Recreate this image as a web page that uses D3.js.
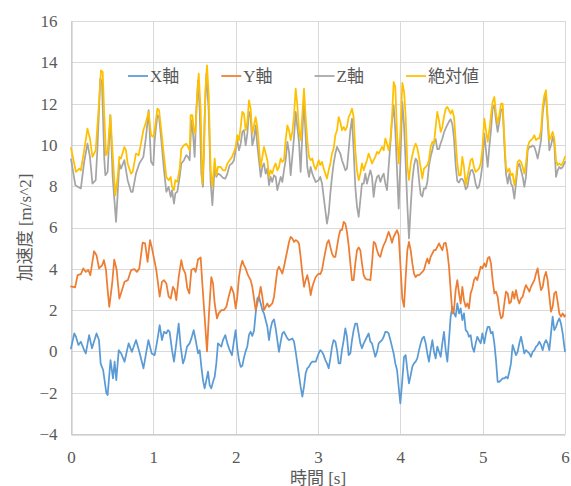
<!DOCTYPE html>
<html><head><meta charset="utf-8">
<script src="https://cdn.jsdelivr.net/npm/d3@7"></script>
<style>body{margin:0;background:#fff}svg{display:block}</style>
</head><body><svg id="c" width="571" height="486"></svg>
<script>
const xTicks = [0,1,2,3,4,5,6];
const yTicks = [-4,-2,0,2,4,6,8,10,12,14,16];
const seriesNames = ["X軸","Y軸","Z軸","絶対値"];
const seriesColors = ["#5B9BD5","#ED7D31","#A5A5A5","#FFC000"];
const xTitle = "時間 [s]";
const yTitle = "加速度 [m/s^2]";

// shared sample times for 2–6 s
const tLate = [
 2.000,2.020,2.040,2.061,2.081,2.101,2.121,2.142,2.162,2.182,2.202,2.223,2.243,2.263,2.283,2.304,2.324,2.344,2.364,2.385,2.405,2.425,2.445,2.466,2.486,2.506,2.526,2.547,2.567,2.587,2.607,2.628,2.648,2.668,2.688,2.709,2.729,2.749,2.769,2.789,2.810,2.830,2.850,2.870,2.891,2.911,2.931,2.951,2.972,
 3.008,3.028,3.049,3.069,3.089,3.109,3.130,3.150,3.170,3.190,3.211,3.231,3.251,3.271,3.291,3.312,3.332,3.352,3.372,3.393,3.413,3.433,3.453,3.474,3.494,3.514,3.534,3.555,3.575,3.595,3.615,3.636,3.656,3.676,3.696,3.717,3.737,3.757,3.777,3.798,3.818,3.838,3.858,3.879,3.899,3.919,3.939,3.960,3.980,4.000,
 4.024,4.045,4.065,4.085,4.105,4.126,4.146,4.166,4.186,4.206,4.227,4.247,4.267,4.287,4.308,4.328,4.348,4.368,4.389,4.409,4.429,4.449,4.470,4.490,4.510,4.530,4.551,4.571,4.591,4.611,4.632,4.652,4.672,4.692,4.713,4.733,4.753,4.773,4.794,4.814,4.834,4.854,4.874,4.895,4.915,4.935,4.955,4.976,4.996,
 5.020,5.040,5.061,5.081,5.101,5.121,5.142,5.162,5.182,5.202,5.223,5.243,5.263,5.283,5.304,5.324,5.344,5.364,5.385,5.405,5.425,5.445,5.466,5.486,5.506,5.526,5.547,5.567,5.587,5.607,5.628,5.648,5.668,5.688,5.709,5.729,5.749,5.769,5.789,5.810,5.830,5.850,5.870,5.891,5.911,5.931,5.951,5.972,5.992,6.000];

// X軸
const xEarlyT = [0,0.04,0.06,0.09,0.12,0.16,0.18,0.22,0.255,0.31,0.34,0.36,0.39,0.43,0.445,0.48,0.51,0.53,0.55,0.58,0.61,0.65,0.7,0.74,0.79,0.83,0.88,0.94,0.98,
 1.016,1.049,1.077,1.105,1.13,1.158,1.178,1.198,1.227,1.251,1.279,1.308,1.332,1.36,1.381,1.409,1.441,1.462,1.49,1.514,1.543,1.563,1.583,1.603,1.623,1.644,1.664,1.684,1.704,1.725,1.745,1.765,1.785,1.806,1.826,1.846,1.874,1.899,1.927,1.955,1.98];
const xEarlyV = [0.15,0.87,0.71,0.31,0.47,0.06,-0.1,0.79,0.15,0.87,0.55,-0.58,-0.9,-2.03,-2.11,-0.42,-1.31,-0.5,-1.39,0.06,-0.1,-0.5,0.39,-0.02,0.55,-0.02,-0.82,0.55,-0.1,
 -0.18,0.55,1.27,0.55,0.95,0.87,1.03,0.95,0.06,-0.5,0.39,1.35,0.23,-0.58,-0.34,0.23,0.39,0.63,1.03,0.55,-0.1,0.06,-0.74,-1.39,-1.79,-1.39,-0.98,-1.63,-1.79,-1.47,-1.23,-0.58,0.39,0.31,0.23,0.55,0.79,0.39,0.06,-0.18,0.55];
const xLateV = [
 1.03,0.15,-0.42,-0.75,-0.7,-0.3,0.0,0.25,0.8,0.95,0.75,1.0,1.84,2.56,2.65,2.32,2.0,1.84,1.52,1.19,0.55,1.11,1.44,1.55,1.11,0.55,-0.02,0.47,0.87,0.95,0.79,0.63,0.55,0.58,0.63,0.47,-0.02,-0.58,-1.15,-1.71,-2.19,-1.71,-1.06,-0.82,-0.74,-0.58,-0.5,-0.5,-0.5,
 -0.1,0.06,-0.02,-0.18,-0.42,-0.58,-0.82,-0.34,0.23,0.55,0.47,0.06,-0.58,-0.58,0.06,0.55,1.11,0.71,-0.18,-0.1,0.55,1.03,1.35,1.35,0.87,0.39,0.15,0.39,0.55,0.71,0.87,0.47,0.39,0.06,-0.26,-0.02,0.39,0.47,0.55,0.71,0.95,0.95,0.87,0.55,0.23,-0.1,-0.58,-0.9,-1.71,-2.52,
 -1.39,-0.26,-0.18,-0.9,-1.55,-1.15,-0.74,-0.58,-0.5,-0.34,0.06,0.39,0.63,0.71,0.39,-0.1,-0.5,0.06,0.55,-0.02,-0.34,0.23,-0.02,-0.26,0.39,0.95,0.06,-0.5,0.55,1.68,2.16,1.84,1.68,2.32,1.84,2.08,1.52,1.84,1.03,0.95,0.71,0.79,0.23,-0.02,0.39,0.71,0.55,0.39,0.87,
 0.39,0.87,1.19,1.19,0.87,0.95,0.39,-0.42,-1.47,-1.47,-1.39,-1.31,-1.31,-1.23,-1.31,-0.98,-0.58,0.31,0.06,-0.18,-0.02,0.39,0.71,0.31,-0.1,0.06,-0.02,-0.1,-0.26,-0.02,0.06,0.23,0.31,0.47,0.31,0.06,0.39,0.55,0.39,0.06,0.87,1.68,1.03,1.19,1.44,1.6,1.35,0.87,0.23,0.0];

// Y軸
const yEarlyT = [0,0.05,0.08,0.12,0.15,0.18,0.21,0.235,0.28,0.31,0.34,0.38,0.40,0.425,0.445,0.465,0.50,0.525,0.555,0.587,0.62,0.65,0.69,0.73,0.77,0.80,0.83,0.87,0.90,0.93,0.96,0.98,
 1.036,1.057,1.077,1.105,1.13,1.158,1.186,1.211,1.239,1.259,1.279,1.308,1.34,1.36,1.389,1.413,1.437,1.462,1.494,1.514,1.543,1.575,1.595,1.623,1.652,1.676,1.704,1.725,1.745,1.773,1.794,1.826,1.858,1.887,1.915,1.947,1.976];
const yEarlyV = [3.15,3.1,3.69,3.74,4.02,3.85,3.94,3.69,4.85,4.66,4.02,4.18,4.42,3.94,2.97,2.16,3.29,4.45,3.94,2.56,2.97,3.37,3.45,3.94,3.98,3.85,4.02,5.27,5.23,4.34,5.39,5.06,
 3.94,3.29,2.65,3.37,3.45,3.29,2.65,2.56,3.13,2.97,2.48,3.6,4.42,4.02,3.77,3.05,2.81,3.94,4.02,3.85,4.45,4.55,3.29,1.68,0.0,1.84,3.6,3.29,2.32,1.6,1.84,2.0,2.0,2.16,2.65,3.13,2.81];
const yLateV = [
 2.08,2.65,3.6,4.1,4.39,4.18,4.02,3.77,3.6,3.45,3.13,2.56,2.0,2.32,2.65,3.13,2.65,2.0,2.16,2.32,2.16,2.24,2.32,2.65,3.29,3.94,4.1,3.94,3.77,4.1,4.5,4.9,5.3,5.55,5.47,5.3,5.39,5.35,5.23,4.58,3.77,3.13,3.45,3.69,3.29,2.73,3.13,3.37,3.6,
 3.77,3.74,3.94,4.42,4.82,5.23,5.39,5.06,4.74,4.58,4.58,5.06,5.55,5.87,5.87,6.27,6.19,5.79,5.15,4.26,3.45,3.45,4.26,4.9,5.03,4.9,4.26,3.69,3.53,3.48,3.48,3.45,4.26,5.3,5.23,4.9,4.66,4.58,4.9,5.15,5.3,5.55,5.79,5.55,5.26,5.55,5.71,5.87,5.63,4.26,
 2.56,2.16,3.6,4.9,5.3,4.9,4.26,3.77,3.6,3.69,3.69,3.77,3.85,3.94,4.26,4.5,4.26,4.58,4.74,4.9,4.9,5.06,5.23,5.06,4.9,5.23,5.26,4.82,4.1,2.97,1.84,2.0,2.97,3.45,2.81,2.32,3.13,2.48,2.16,2.32,2.08,2.81,3.05,3.45,3.6,3.45,3.77,4.1,4.02,
 4.26,4.1,4.5,4.58,4.26,3.45,2.81,2.89,2.65,2.0,1.6,1.68,2.32,2.89,2.81,2.32,2.4,2.89,2.56,2.97,2.56,2.32,2.56,2.65,2.97,3.21,3.05,2.89,3.13,3.29,3.45,3.77,4.02,3.45,2.97,3.13,3.6,3.85,3.45,2.65,1.92,2.16,2.81,2.89,2.4,1.84,1.68,1.84,1.68,1.75];

// Z軸
const zEarlyT = [0,0.053,0.08,0.12,0.16,0.20,0.23,0.26,0.30,0.32,0.356,0.376,0.405,0.417,0.445,0.478,0.506,0.547,0.567,0.587,0.607,0.648,0.688,0.729,0.749,0.789,0.83,0.879,0.911,0.943,0.972,
 1.0,1.016,1.049,1.069,1.097,1.13,1.158,1.186,1.211,1.227,1.251,1.267,1.291,1.32,1.34,1.372,1.40,1.421,1.441,1.462,1.482,1.502,1.522,1.543,1.563,1.583,1.603,1.623,1.644,1.672,1.696,1.717,1.745,1.765,1.785,1.818,1.846,1.874,1.899,1.927,1.955,1.98];
const zEarlyV = [9.3,8.05,7.97,7.89,9.18,10.06,9.42,8.13,8.29,9.74,13.21,13.05,9.26,8.53,8.69,11.44,8.45,6.27,7.65,9.1,8.85,9.26,8.29,7.73,7.73,8.61,9.1,9.42,10.39,11.68,9.18,
 9.02,10.23,11.44,11.35,10.23,8.77,7.73,7.97,7.48,7.81,7.16,7.65,7.73,8.45,9.1,9.26,9.5,9.42,9.26,11.19,10.55,9.42,11.68,13.13,11.68,8.61,7.97,11.35,13.45,11.68,8.21,7.08,8.93,8.45,8.61,8.53,8.4,8.37,8.61,9.02,9.1,9.26];
const zLateV = [
 9.8,10.23,9.74,10.06,10.63,10.71,9.98,10.55,11.6,11.35,9.98,10.31,10.95,9.98,9.26,8.45,8.93,9.1,8.61,8.85,8.05,8.45,8.21,8.53,8.45,7.81,8.13,8.45,8.21,8.77,9.26,10.15,9.66,8.53,9.42,10.39,11.6,10.87,10.15,8.69,10.55,12.16,10.39,8.93,8.45,8.93,8.61,8.4,8.2,
 8.29,8.45,8.13,7.48,6.84,6.19,6.68,7.65,8.45,9.1,9.58,9.9,9.74,9.58,9.26,9.02,8.77,8.85,9.74,10.71,11.27,9.74,7.97,7.0,6.52,7.32,8.13,8.13,8.61,8.13,8.45,8.77,8.45,7.48,8.13,8.45,8.53,8.21,8.45,8.61,8.13,7.81,8.93,10.06,11.19,11.92,10.71,8.77,6.92,9.1,
 12.08,10.95,9.1,7.1,5.47,7.0,8.29,9.0,9.34,9.2,8.3,7.6,7.5,7.9,7.88,8.2,9.0,9.42,9.75,10.15,10.28,9.8,9.8,10.08,10.3,10.6,10.8,10.97,11.13,11.24,11.0,10.3,9.0,8.25,8.18,8.35,8.35,8.2,7.85,7.95,8.42,8.75,8.8,8.55,8.1,7.89,7.98,8.4,9.0,
 10.55,9.74,8.93,9.9,10.71,11.76,11.92,11.19,10.63,11.11,11.68,11.76,10.06,8.61,8.13,8.61,8.13,7.97,7.4,8.13,8.93,9.1,8.77,8.45,7.97,8.45,9.74,9.9,9.9,9.98,9.9,9.66,9.34,9.74,10.23,11.52,12.16,12.4,11.19,9.74,9.98,10.39,10.06,8.45,8.77,8.93,8.85,8.93,9.1,9.18];

// 絶対値
const aEarlyT = [0,0.06,0.10,0.12,0.16,0.20,0.23,0.26,0.30,0.34,0.364,0.385,0.405,0.425,0.445,0.478,0.506,0.538,0.567,0.587,0.607,0.648,0.668,0.688,0.729,0.749,0.789,0.822,0.85,0.879,0.911,0.943,0.972,1.0,
 1.016,1.049,1.069,1.097,1.117,1.158,1.186,1.211,1.227,1.251,1.267,1.291,1.32,1.34,1.372,1.40,1.421,1.441,1.453,1.474,1.494,1.51,1.53,1.551,1.575,1.595,1.615,1.632,1.652,1.672,1.696,1.717,1.745,1.765,1.785,1.818,1.846,1.874,1.899,1.927,1.955,1.98];
const aEarlyV = [9.85,8.69,8.85,8.77,9.74,10.79,10.31,9.42,9.74,12.0,13.61,13.53,11.35,9.5,9.66,11.44,9.58,7.56,8.45,9.42,9.34,9.9,9.74,9.1,8.61,8.69,9.58,9.5,10.06,10.71,11.11,11.6,10.47,10.39,
 10.71,11.76,11.68,10.71,9.9,8.45,8.29,8.45,7.97,7.81,8.29,8.21,8.85,9.82,9.98,10.06,9.9,9.74,11.44,11.44,10.63,10.55,12.16,13.45,11.68,8.1,9.5,12.6,13.85,12.48,8.77,7.97,9.34,8.53,8.93,8.93,8.77,8.77,9.1,9.26,9.42,9.66];
const aLateV = [
 9.9,10.47,10.23,10.87,11.6,11.52,10.71,11.11,12.16,11.76,10.55,10.95,11.35,10.87,9.9,8.93,9.42,9.9,9.58,9.26,8.45,8.77,8.61,8.93,9.1,8.77,8.93,9.34,9.18,9.26,10.23,10.95,10.71,10.23,10.63,11.44,12.73,11.92,10.71,10.23,11.52,12.73,11.35,10.23,9.42,9.26,9.34,9.0,8.8,
 9.26,9.02,9.18,8.85,8.61,8.37,8.77,9.1,9.58,9.82,10.47,10.71,11.35,11.11,10.71,10.87,10.71,10.87,11.35,11.52,11.76,11.35,9.74,8.77,8.29,8.61,9.1,8.77,9.02,9.26,9.58,9.34,9.1,9.26,9.42,9.66,9.58,9.74,9.9,9.74,10.31,10.06,9.74,10.23,11.35,13.05,12.81,10.55,9.1,10.55,
 13.0,12.6,11.35,9.0,8.3,9.1,9.5,9.85,10.06,9.85,9.4,8.9,8.37,8.85,8.93,9.02,9.26,9.9,10.15,10.06,10.87,11.6,11.19,10.63,10.87,11.35,11.76,11.84,11.68,11.52,11.68,11.35,10.23,9.1,8.53,8.53,9.42,8.93,8.05,8.45,8.85,9.26,9.34,8.93,8.69,8.77,8.85,9.1,9.74,
 11.27,10.71,10.15,10.71,11.44,12.08,12.32,11.52,11.03,11.44,12.0,12.0,10.39,8.93,8.69,8.85,8.53,8.61,8.05,8.45,9.18,9.26,9.18,8.93,8.61,9.1,9.9,10.15,10.23,10.31,10.47,10.23,10.31,10.31,10.71,11.84,12.4,12.65,11.35,10.23,10.39,10.63,10.31,9.26,9.02,9.1,9.02,9.1,9.34,9.42];

// ---------- drawing ----------
const FONT = '"Liberation Serif","Times New Roman","Noto Sans CJK JP",serif';
const TXT = "#595959";
function styleText(sel){
  return sel.style("font-family", FONT).style("font-size", "17px").style("fill", TXT);
}
const svg = d3.select("#c");
const x = d3.scaleLinear().domain([0,6]).range([71,565]);
const y = d3.scaleLinear().domain([-4,16]).range([434,21]);

function build(tE, vE, vL){
  const pts = [];
  const n1 = Math.min(tE.length, vE.length);
  for (let i=0;i<n1;i++) pts.push([tE[i], vE[i]]);
  const n2 = Math.min(tLate.length, vL.length);
  for (let i=0;i<n2;i++) pts.push([tLate[i], vL[i]]);
  return pts;
}
const series = [
  build(xEarlyT, xEarlyV, xLateV),
  build(yEarlyT, yEarlyV, yLateV),
  build(zEarlyT, zEarlyV, zLateV),
  build(aEarlyT, aEarlyV, aLateV)
];

// gridlines
const grid = svg.append("g");
grid.selectAll("line.h").data(yTicks).join("line")
  .attr("x1", x(0)).attr("x2", x(6))
  .attr("y1", d=>Math.round(y(d))+0.5).attr("y2", d=>Math.round(y(d))+0.5)
  .attr("stroke", "#D9D9D9").attr("stroke-width", 1);
grid.selectAll("line.v").data(xTicks).join("line")
  .attr("y1", y(16)).attr("y2", y(-4))
  .attr("x1", d=>Math.round(x(d))+0.5).attr("x2", d=>Math.round(x(d))+0.5)
  .attr("stroke", "#D9D9D9").attr("stroke-width", 1);

// axes
const ax = svg.append("g").attr("transform", `translate(${Math.round(x(0))+0.5},0)`)
  .call(d3.axisLeft(y).tickValues(yTicks).tickSize(0).tickPadding(14).tickFormat(d3.format("d")));
ax.attr("font-family", null).attr("font-size", null);
ax.select(".domain").attr("stroke", "#BFBFBF");
styleText(ax.selectAll("text"));

const bx = svg.append("g").attr("transform", `translate(0,${Math.round(y(-4))+0.5})`)
  .call(d3.axisBottom(x).tickValues(xTicks).tickSize(0).tickPadding(16).tickFormat(d3.format("d")));
bx.attr("font-family", null).attr("font-size", null);
bx.select(".domain").attr("stroke", "#BFBFBF");
styleText(bx.selectAll("text"));

// series lines
const line = d3.line().x(d=>x(d[0])).y(d=>y(d[1]));
svg.append("g").selectAll("path").data(series).join("path")
  .attr("d", line)
  .attr("fill", "none")
  .attr("stroke", (d,i)=>seriesColors[i])
  .attr("stroke-width", 1.75)
  .attr("stroke-linejoin", "round")
  .attr("stroke-linecap", "round");

// axis titles
styleText(svg.append("text").text(xTitle)
  .attr("x", (x(0)+x(6))/2).attr("y", 484)
  .attr("text-anchor", "middle"));
styleText(svg.append("text").text(yTitle)
  .attr("transform", `translate(31,${(y(16)+y(-4))/2}) rotate(-90)`)
  .attr("text-anchor", "middle"));

// legend
const leg = svg.append("g");
let lx = 128;
const ly = 76;
seriesNames.forEach((name,i)=>{
  leg.append("line").attr("x1", lx).attr("x2", lx+20).attr("y1", ly).attr("y2", ly)
    .attr("stroke", seriesColors[i]).attr("stroke-width", 1.75);
  const t = styleText(leg.append("text").text(name).attr("x", lx+22).attr("y", ly).attr("dy", "0.36em"));
  lx += 22 + t.node().getComputedTextLength() + 42;
});
</script>
</body></html>
